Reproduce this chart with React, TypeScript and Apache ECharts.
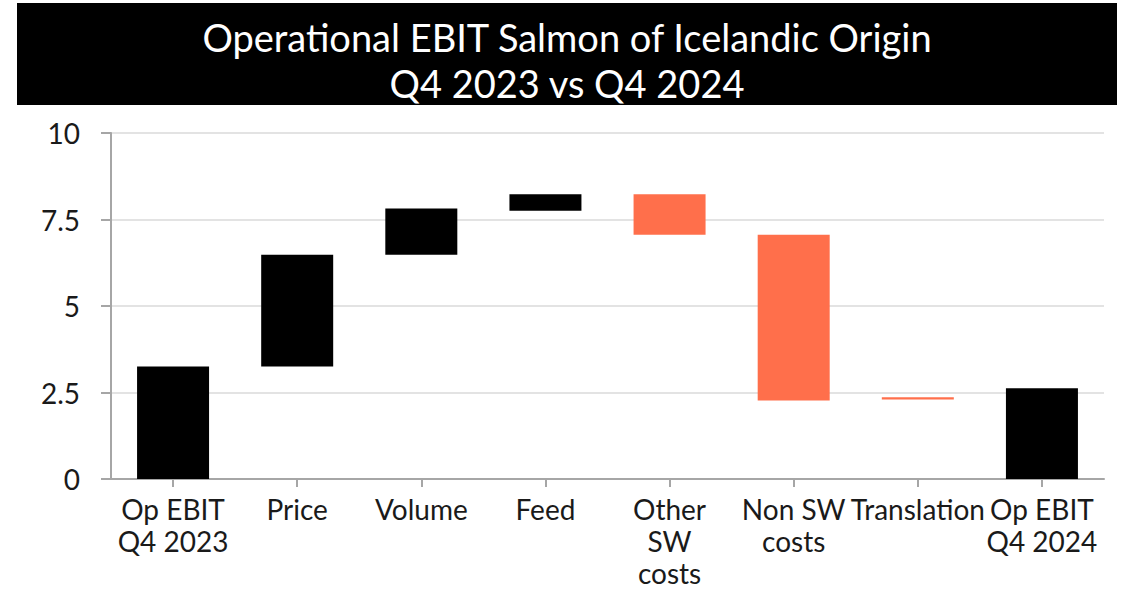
import React, { useEffect, useRef } from "react";
import * as echarts from "echarts";

const categories = [
  "Op EBIT\nQ4 2023",
  "Price",
  "Volume",
  "Feed",
  "Other\nSW\ncosts",
  "Non SW\ncosts",
  "Translation",
  "Op EBIT\nQ4 2024",
];
// invisible base of each floating bar
const bases = [0, 3.25, 6.48, 7.75, 7.06, 2.27, 2.3, 0];
// visible bar height
const heights = [3.25, 3.23, 1.34, 0.48, 1.17, 4.79, 0.06, 2.62];
// true = increase/total (black), false = decrease (orange)
const positive = [true, true, true, true, false, false, false, true];
const yTicks = [0, 2.5, 5, 7.5, 10];

const BLACK = "#000000";
const ORANGE = "#FF6F4B";
const FONT = "Lato, 'Noto Sans', sans-serif";

export default function App() {
  const ref = useRef<HTMLDivElement>(null);
  useEffect(() => {
    document.body.style.margin = "0";
    const chart = echarts.init(ref.current!, null, { renderer: "svg" });
    chart.setOption({
      animation: false,
      backgroundColor: "#ffffff",
      graphic: [
        {
          type: "rect",
          shape: { x: 17, y: 3, width: 1100, height: 102 },
          style: { fill: "#000000" },
          silent: true,
        },
        {
          type: "text",
          x: 567,
          y: 37,
          style: {
            text: "Operational EBIT Salmon of Icelandic Origin",
            fill: "#ffffff",
            font: `38px ${FONT}`,
            textAlign: "center",
            textVerticalAlign: "middle",
          },
        },
        {
          type: "text",
          x: 567,
          y: 83,
          style: {
            text: "Q4 2023 vs Q4 2024",
            fill: "#ffffff",
            font: `38px ${FONT}`,
            textAlign: "center",
            textVerticalAlign: "middle",
          },
        },
      ],
      grid: { left: 111, right: 23, top: 133, bottom: 107.5 },
      xAxis: {
        type: "category",
        data: categories,
        axisLine: { lineStyle: { color: "#a6a6a6", width: 2 } },
        axisTick: { show: true, alignWithLabel: true, length: 8, lineStyle: { color: "#a6a6a6", width: 2 } },
        axisLabel: {
          interval: 0,
          margin: 14,
          color: "#1a1a1a",
          fontFamily: FONT,
          fontSize: 28,
          lineHeight: 32,
        },
      },
      yAxis: {
        type: "value",
        min: yTicks[0],
        max: yTicks[yTicks.length - 1],
        interval: 2.5,
        axisLine: { show: true, lineStyle: { color: "#a6a6a6", width: 2 } },
        axisTick: { show: true, length: 10, lineStyle: { color: "#a6a6a6", width: 2 } },
        splitLine: { show: true, lineStyle: { color: "#e3e3e3", width: 2 } },
        axisLabel: {
          margin: 31,
          color: "#1a1a1a",
          fontFamily: FONT,
          fontSize: 28,
        },
      },
      series: [
        {
          type: "bar",
          stack: "w",
          data: bases,
          itemStyle: { color: "transparent" },
          barWidth: 72,
          silent: true,
        },
        {
          type: "bar",
          stack: "w",
          barWidth: 72,
          barMinHeight: 2,
          data: heights.map((v, i) => ({
            value: v,
            itemStyle: { color: positive[i] ? BLACK : ORANGE },
          })),
        },
      ],
    });
    return () => chart.dispose();
  }, []);
  return <div ref={ref} style={{ width: 1127, height: 589 }} />;
}
